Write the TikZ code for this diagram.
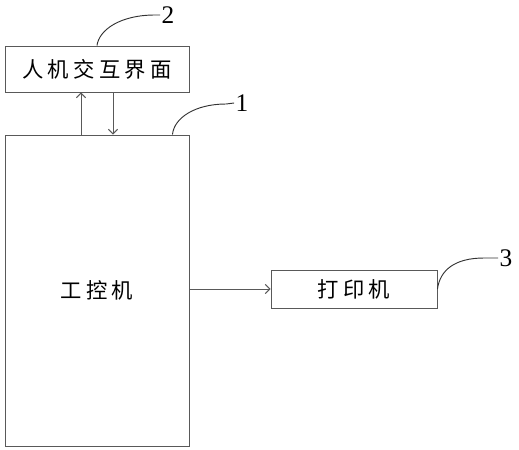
\documentclass[tikz,border=0pt]{standalone}
\usepackage{fontspec}
\usetikzlibrary{arrows.meta}
\setmainfont{Liberation Serif}
\newfontfamily\cjk[LetterSpace=20]{Noto Sans CJK SC}
\begin{document}
\begin{tikzpicture}[x=0.75pt,y=-0.75pt,
  box/.style={draw=black!65,line width=0.7pt,inner sep=0pt,
    font=\cjk\fontsize{16}{18}\selectfont},
  lead/.style={draw=black!80,line width=0.7pt},
  num/.style={inner sep=1pt,font=\fontsize{19}{21}\selectfont},
  link/.style={draw=black!65,line width=0.7pt,-{Straight Barb[length=3.5pt,width=7pt]}}]
\useasboundingbox (0,0) rectangle (519,450);
\node[box,minimum width=138pt,minimum height=34.5pt] (hmi) at (97,69) {人机交互界面};
\node[box,minimum width=138pt,minimum height=233.25pt] (ipc) at (97,290.5) {工控机};
\node[box,minimum width=124.5pt,minimum height=28.5pt] (prn) at (354,289) {打印机};
\node[num] (lbl2) at (168,15) {2};
\node[num] (lbl1) at (242,103) {1};
\node[num] (lbl3) at (506,258) {3};
\draw[link] ([xshift=-12pt]ipc.north) -- ([xshift=-12pt]hmi.south);
\draw[link] ([xshift=12pt]hmi.south) -- ([xshift=12pt]ipc.north);
\draw[link] (ipc.east |- prn.west) -- (prn.west);
\draw[lead] (hmi.north) .. controls (99,30) and (120,15) .. (155,15) -- (lbl2.west);
\draw[lead] ([xshift=-12.75pt]ipc.north east) .. controls (174,118) and (195,104) .. (226,104) -- (lbl1.west);
\draw[lead] (prn.east) .. controls (440,270) and (455,258) .. (484,258) -- (lbl3.west);
\end{tikzpicture}
\end{document}
